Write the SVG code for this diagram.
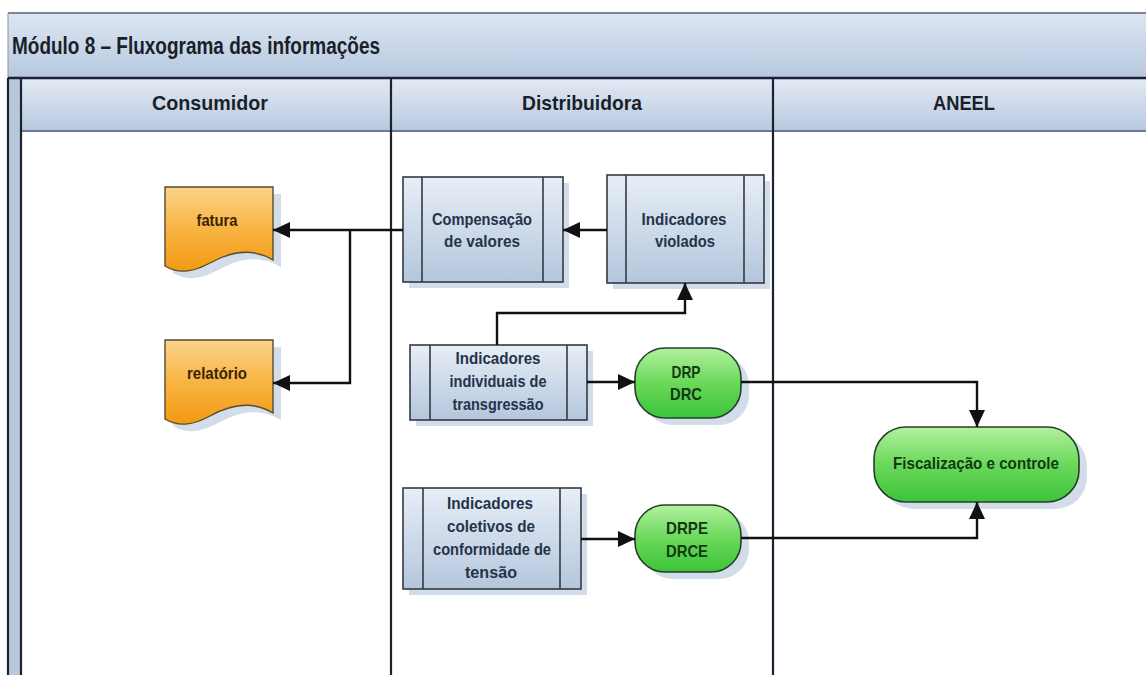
<svg xmlns="http://www.w3.org/2000/svg" width="1146" height="675" viewBox="0 0 1146 675">
<defs>
<linearGradient id="gHead" x1="0" y1="0" x2="0" y2="1">
<stop offset="0" stop-color="#e3eaf4"/><stop offset="1" stop-color="#b7c9e0"/>
</linearGradient>
<linearGradient id="gTitle" x1="0" y1="0" x2="0" y2="1">
<stop offset="0" stop-color="#dde6f2"/><stop offset="1" stop-color="#b6c8df"/>
</linearGradient>
<linearGradient id="gBox" x1="0" y1="0" x2="0" y2="1">
<stop offset="0" stop-color="#e7eef7"/><stop offset="1" stop-color="#b4c6dc"/>
</linearGradient>
<linearGradient id="gGreen" x1="0" y1="0" x2="0" y2="1">
<stop offset="0" stop-color="#b4f0a0"/><stop offset="0.5" stop-color="#6ad85a"/><stop offset="1" stop-color="#3cc43a"/>
</linearGradient>
<linearGradient id="gOrange" x1="0" y1="0" x2="0" y2="1">
<stop offset="0" stop-color="#fbd38a"/><stop offset="0.5" stop-color="#f8b443"/><stop offset="1" stop-color="#f29a12"/>
</linearGradient>
<marker id="arr" viewBox="0 0 17 16" refX="17" refY="8" markerWidth="17" markerHeight="16" markerUnits="userSpaceOnUse" orient="auto">
<path d="M0,0 L17,8 L0,16 Z" fill="#111"/>
</marker>
<style>
.lane{stroke:#1c2230;stroke-width:2.2;fill:none}
.hdr{font-family:"Liberation Sans",Arial,sans-serif;font-weight:bold;font-size:21px;fill:#1a1f29;text-anchor:middle}
.ttl{font-family:"Liberation Sans",Arial,sans-serif;font-weight:bold;font-size:23px;fill:#1a1f29}
.box{fill:url(#gBox);stroke:#333a44;stroke-width:1.6}
.inner{stroke:#333a44;stroke-width:1.6}
.bt{font-family:"Liberation Sans",Arial,sans-serif;font-weight:bold;font-size:17px;fill:#25334a;text-anchor:middle}
.gt{font-family:"Liberation Sans",Arial,sans-serif;font-weight:bold;font-size:17px;fill:#123a12;text-anchor:middle}
.ot{font-family:"Liberation Sans",Arial,sans-serif;font-weight:bold;font-size:17px;fill:#3a2400;text-anchor:middle}
.green{fill:url(#gGreen);stroke:#25402a;stroke-width:1.6}
.doc{fill:url(#gOrange);stroke:#5a4a30;stroke-width:1.4}
.shadow{fill:#d3dce9}
.con{fill:none;stroke:#111;stroke-width:2.4}
</style>
</defs>
<rect width="1146" height="675" fill="#ffffff"/>

<g id="pool">
<rect x="8" y="13" width="1140" height="65" fill="url(#gTitle)"/>
<line x1="8" y1="13" x2="1146" y2="13" stroke="#5a6270" stroke-width="1.5"/>
<line x1="8" y1="13" x2="8" y2="78" stroke="#8a96a8" stroke-width="1"/>
<text class="ttl" x="12" y="54" textLength="368" lengthAdjust="spacingAndGlyphs">Módulo 8 – Fluxograma das informações</text>
<rect x="8" y="78" width="13" height="597" fill="#b8c8dc"/>
<rect x="21" y="78" width="1125" height="53" fill="url(#gHead)"/>
<line x1="21" y1="131" x2="1146" y2="131" stroke="#6b7a8e" stroke-width="2"/>
<line x1="8" y1="78" x2="1146" y2="78" stroke="#1c2230" stroke-width="2.5"/>
<line class="lane" x1="8" y1="78" x2="8" y2="675"/>
<line class="lane" x1="21" y1="78" x2="21" y2="675"/>
<line class="lane" x1="391" y1="78" x2="391" y2="675"/>
<line class="lane" x1="773" y1="78" x2="773" y2="675"/>
<text class="hdr" x="210" y="110" textLength="116" lengthAdjust="spacingAndGlyphs">Consumidor</text>
<text class="hdr" x="582" y="110" textLength="120" lengthAdjust="spacingAndGlyphs">Distribuidora</text>
<text class="hdr" x="964" y="110" textLength="62" lengthAdjust="spacingAndGlyphs">ANEEL</text>
</g>

<g id="fatura">
<path class="shadow" d="M173,194 H281 V267 C258,253 236,260 218,270 C203,278 188,282 173,273 Z"/>
<path class="doc" d="M165,187 H273 V260 C250,246 228,253 210,263 C195,271 180,275 165,266 Z"/>
<text class="ot" x="217" y="226" textLength="41" lengthAdjust="spacingAndGlyphs">fatura</text>
</g>

<g id="relatorio">
<path class="shadow" d="M173,347 H281 V420 C258,406 236,413 218,423 C203,431 188,435 173,426 Z"/>
<path class="doc" d="M165,340 H273 V413 C250,399 228,406 210,416 C195,424 180,428 165,419 Z"/>
<text class="ot" x="217" y="379" textLength="60" lengthAdjust="spacingAndGlyphs">relatório</text>
</g>

<g id="compensacao">
<rect class="shadow" x="409" y="183" width="160" height="105"/>
<rect class="box" x="403" y="177" width="160" height="105"/>
<line class="inner" x1="422" y1="177" x2="422" y2="282"/>
<line class="inner" x1="543" y1="177" x2="543" y2="282"/>
<text class="bt" x="482" y="225" textLength="100" lengthAdjust="spacingAndGlyphs">Compensação</text>
<text class="bt" x="482" y="247" textLength="76" lengthAdjust="spacingAndGlyphs">de valores</text>
</g>

<g id="violados">
<rect class="shadow" x="613" y="181" width="157" height="108"/>
<rect class="box" x="607" y="175" width="157" height="108"/>
<line class="inner" x1="626" y1="175" x2="626" y2="283"/>
<line class="inner" x1="744" y1="175" x2="744" y2="283"/>
<text class="bt" x="684" y="225" textLength="85" lengthAdjust="spacingAndGlyphs">Indicadores</text>
<text class="bt" x="685" y="247" textLength="60" lengthAdjust="spacingAndGlyphs">violados</text>
</g>

<g id="individuais">
<rect class="shadow" x="416" y="351" width="177" height="75"/>
<rect class="box" x="410" y="345" width="177" height="75"/>
<line class="inner" x1="430" y1="345" x2="430" y2="420"/>
<line class="inner" x1="567" y1="345" x2="567" y2="420"/>
<text class="bt" x="498" y="364" textLength="85" lengthAdjust="spacingAndGlyphs">Indicadores</text>
<text class="bt" x="498" y="387" textLength="97" lengthAdjust="spacingAndGlyphs">individuais de</text>
<text class="bt" x="498" y="410" textLength="91" lengthAdjust="spacingAndGlyphs">transgressão</text>
</g>

<g id="coletivos">
<rect class="shadow" x="409" y="494" width="178" height="101"/>
<rect class="box" x="403" y="488" width="178" height="101"/>
<line class="inner" x1="423" y1="488" x2="423" y2="589"/>
<line class="inner" x1="560" y1="488" x2="560" y2="589"/>
<text class="bt" x="490" y="509" textLength="86" lengthAdjust="spacingAndGlyphs">Indicadores</text>
<text class="bt" x="491" y="532" textLength="88" lengthAdjust="spacingAndGlyphs">coletivos de</text>
<text class="bt" x="492" y="555" textLength="118" lengthAdjust="spacingAndGlyphs">conformidade de</text>
<text class="bt" x="491" y="578" textLength="52" lengthAdjust="spacingAndGlyphs">tensão</text>
</g>

<g id="drp">
<rect class="shadow" x="643" y="355" width="106" height="70" rx="30"/>
<rect class="green" x="635" y="348" width="106" height="70" rx="30"/>
<text class="gt" x="686" y="378" textLength="29" lengthAdjust="spacingAndGlyphs">DRP</text>
<text class="gt" x="686" y="400" textLength="32" lengthAdjust="spacingAndGlyphs">DRC</text>
</g>

<g id="drpe">
<rect class="shadow" x="643" y="512" width="106" height="67" rx="30"/>
<rect class="green" x="635" y="505" width="106" height="67" rx="30"/>
<text class="gt" x="687" y="534" textLength="42" lengthAdjust="spacingAndGlyphs">DRPE</text>
<text class="gt" x="687" y="557" textLength="42" lengthAdjust="spacingAndGlyphs">DRCE</text>
</g>

<g id="fiscalizacao">
<rect class="shadow" x="882" y="434" width="205" height="75" rx="32"/>
<rect class="green" x="874" y="427" width="205" height="75" rx="32"/>
<text class="gt" x="976" y="469" textLength="166" lengthAdjust="spacingAndGlyphs">Fiscalização e controle</text>
</g>

<g id="connectors">
<path class="con" d="M403,230 H273" marker-end="url(#arr)"/>
<path class="con" d="M350,230 V383 H273" marker-end="url(#arr)"/>
<path class="con" d="M607,230 H563" marker-end="url(#arr)"/>
<path class="con" d="M497,345 V313 H685 V283" marker-end="url(#arr)"/>
<path class="con" d="M587,382 H635" marker-end="url(#arr)"/>
<path class="con" d="M741,382 H977 V427" marker-end="url(#arr)"/>
<path class="con" d="M581,539 H635" marker-end="url(#arr)"/>
<path class="con" d="M741,538 H977 V502" marker-end="url(#arr)"/>
</g>
</svg>
